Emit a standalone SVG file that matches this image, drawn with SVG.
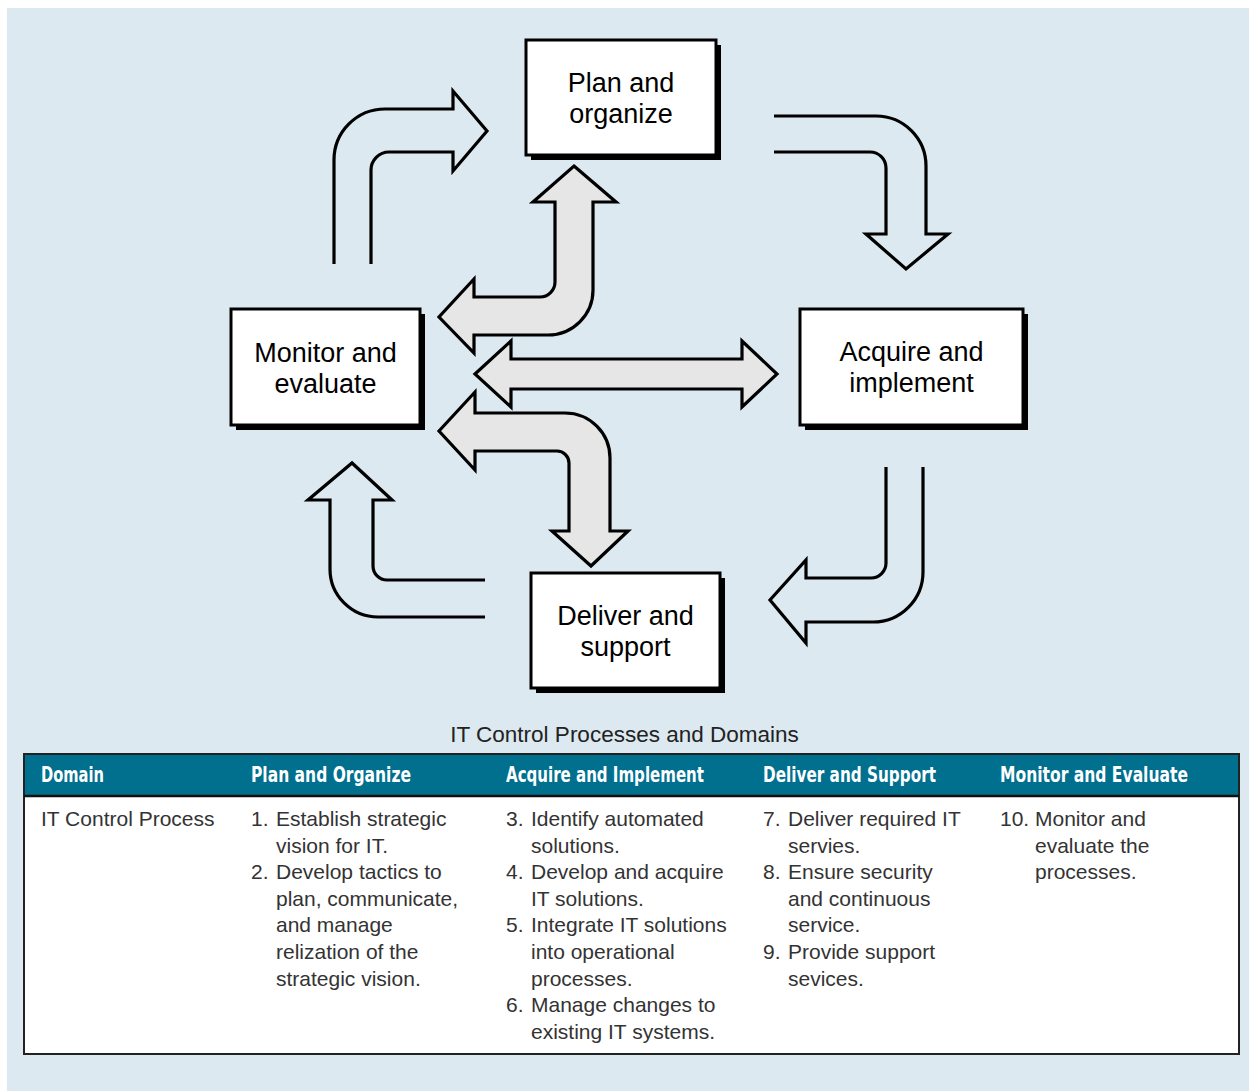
<svg xmlns="http://www.w3.org/2000/svg" width="1249" height="1091" viewBox="0 0 1249 1091">
<style>
.box{fill:#fff;stroke:#000;stroke-width:3}
.shadow{fill:#000}
.bt{font-family:"Liberation Sans",Arial,sans-serif;font-size:27px;fill:#000;text-anchor:middle}
.outline{fill:none;stroke:#000;stroke-width:3.2;stroke-linejoin:miter}
.gray{fill:#e6e6e6;stroke:#000;stroke-width:3.2;stroke-linejoin:miter}
.hd{font-family:"DejaVu Sans Condensed","Liberation Sans Narrow",sans-serif;font-weight:bold;font-size:22px;fill:#fff}
.td{font-family:"Liberation Sans",Arial,sans-serif;font-size:21px;fill:#333}
.cap{font-family:"Liberation Sans",Arial,sans-serif;font-size:22.5px;fill:#222;text-anchor:middle}
</style>
<rect x="0" y="0" width="1249" height="1091" fill="#fff"/>
<rect x="7" y="8" width="1242" height="1083" fill="#dce9f0"/>

<g id="connectors">
  <path class="outline" d="M334,264 L334,160 A51,51 0 0 1 385,109 L453,109 L453,91 L487,131 L453,171 L453,152 L389,152 A18,18 0 0 0 371,170 L371,264"/>
  <path class="outline" d="M774,116 L876,116 A50,50 0 0 1 926,166 L926,234 L948,234 L906,269 L866,234 L886,234 L886,168 A16,16 0 0 0 870,152 L774,152"/>
  <path class="outline" d="M923,467 L923,572 A50,50 0 0 1 873,622 L806,622 L806,643 L770,600 L806,560 L806,578 L871,578 A15,15 0 0 0 886,563 L886,467"/>
  <path class="outline" d="M485,617 L378,617 A48,48 0 0 1 330,569 L330,500 L308,500 L352,463 L392,500 L373,500 L373,566 A14,14 0 0 0 387,580 L485,580"/>
  <path class="gray" d="M574,166 L616,202 L593,202 L593,290 A45,45 0 0 1 548,335 L474,335 L474,353 L439,317 L474,279 L474,297 L540,297 A15,15 0 0 0 555,282 L555,202 L533,202 Z"/>
  <path class="gray" d="M475,374 L511,341 L511,359 L742,359 L742,341 L777,374 L742,407 L742,389 L511,389 L511,407 Z"/>
  <path class="gray" d="M439,431 L475,392 L475,413 L565,413 A45,45 0 0 1 610,458 L610,531 L628,531 L591,566 L552,531 L569,531 L569,463 A12,12 0 0 0 557,451 L475,451 L475,470 Z"/>
</g>

<g id="plan">
  <rect class="shadow" x="531" y="45" width="190" height="115"/>
  <rect class="box" x="526" y="40" width="190" height="115"/>
  <text class="bt" x="621" y="92">Plan and</text>
  <text class="bt" x="621" y="123">organize</text>
</g>
<g id="monitor">
  <rect class="shadow" x="236" y="314" width="189" height="116"/>
  <rect class="box" x="231" y="309" width="189" height="116"/>
  <text class="bt" x="325.5" y="362">Monitor and</text>
  <text class="bt" x="325.5" y="393">evaluate</text>
</g>
<g id="acquire">
  <rect class="shadow" x="805" y="314" width="223" height="116"/>
  <rect class="box" x="800" y="309" width="223" height="116"/>
  <text class="bt" x="911.5" y="361">Acquire and</text>
  <text class="bt" x="911.5" y="392">implement</text>
</g>
<g id="deliver">
  <rect class="shadow" x="536" y="578" width="189" height="115"/>
  <rect class="box" x="531" y="573" width="189" height="115"/>
  <text class="bt" x="625.5" y="625">Deliver and</text>
  <text class="bt" x="625.5" y="656">support</text>
</g>

<g id="table">
  <text class="cap" x="624.5" y="742">IT Control Processes and Domains</text>
  <rect x="24" y="754" width="1215" height="300" fill="#fff" stroke="#222" stroke-width="2"/>
  <rect x="24" y="754" width="1215" height="42" fill="#00708e" stroke="#222" stroke-width="2"/>
  <line x1="24" y1="796" x2="1239" y2="796" stroke="#111" stroke-width="2.5"/>
  <text class="hd" x="41" y="782" textLength="63" lengthAdjust="spacingAndGlyphs">Domain</text>
  <text class="hd" x="251" y="782" textLength="160" lengthAdjust="spacingAndGlyphs">Plan and Organize</text>
  <text class="hd" x="506" y="782" textLength="198" lengthAdjust="spacingAndGlyphs">Acquire and Implement</text>
  <text class="hd" x="763" y="782" textLength="173" lengthAdjust="spacingAndGlyphs">Deliver and Support</text>
  <text class="hd" x="1000" y="782" textLength="188" lengthAdjust="spacingAndGlyphs">Monitor and Evaluate</text>

  <text class="td" x="41" y="826">IT Control Process</text>

  <text class="td" x="251" y="826">1.</text><text class="td" x="276" y="826">Establish strategic</text>
  <text class="td" x="276" y="852.6">vision for IT.</text>
  <text class="td" x="251" y="879.2">2.</text><text class="td" x="276" y="879.2">Develop tactics to</text>
  <text class="td" x="276" y="905.8">plan, communicate,</text>
  <text class="td" x="276" y="932.4">and manage</text>
  <text class="td" x="276" y="959">relization of the</text>
  <text class="td" x="276" y="985.6">strategic vision.</text>

  <text class="td" x="506" y="826">3.</text><text class="td" x="531" y="826">Identify automated</text>
  <text class="td" x="531" y="852.6">solutions.</text>
  <text class="td" x="506" y="879.2">4.</text><text class="td" x="531" y="879.2">Develop and acquire</text>
  <text class="td" x="531" y="905.8">IT solutions.</text>
  <text class="td" x="506" y="932.4">5.</text><text class="td" x="531" y="932.4">Integrate IT solutions</text>
  <text class="td" x="531" y="959">into operational</text>
  <text class="td" x="531" y="985.6">processes.</text>
  <text class="td" x="506" y="1012.2">6.</text><text class="td" x="531" y="1012.2">Manage changes to</text>
  <text class="td" x="531" y="1038.8">existing IT systems.</text>

  <text class="td" x="763" y="826">7.</text><text class="td" x="788" y="826">Deliver required IT</text>
  <text class="td" x="788" y="852.6">servies.</text>
  <text class="td" x="763" y="879.2">8.</text><text class="td" x="788" y="879.2">Ensure security</text>
  <text class="td" x="788" y="905.8">and continuous</text>
  <text class="td" x="788" y="932.4">service.</text>
  <text class="td" x="763" y="959">9.</text><text class="td" x="788" y="959">Provide support</text>
  <text class="td" x="788" y="985.6">sevices.</text>

  <text class="td" x="1000" y="826">10.</text><text class="td" x="1035" y="826">Monitor and</text>
  <text class="td" x="1035" y="852.6">evaluate the</text>
  <text class="td" x="1035" y="879.2">processes.</text>
</g>
</svg>
